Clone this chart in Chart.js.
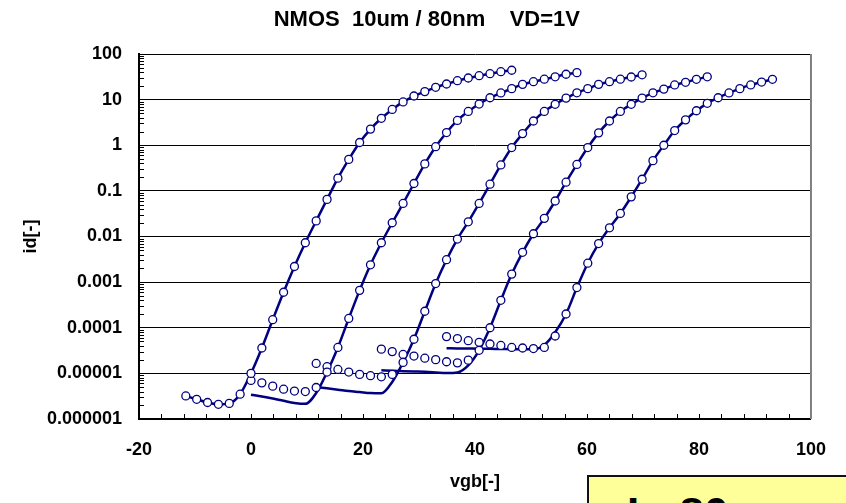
<!DOCTYPE html>
<html>
<head>
<meta charset="utf-8">
<script src="https://cdn.jsdelivr.net/npm/chart.js@4"></script>
<style>
  html, body { margin: 0; padding: 0; background: #fff; overflow: hidden; }
  #wrap { position: relative; width: 846px; height: 503px; }
  #note {
    position: absolute; left: 587px; top: 475px; width: 270px; height: 60px;
    background: #FFFF99; border: 2px solid #111; box-sizing: border-box;
    font: bold 44px "Liberation Sans", Arial, sans-serif; color: #000;
    padding: 12px 0 0 38px; white-space: nowrap;
  }
</style>
</head>
<body>
<div id="wrap">
  <canvas id="idChart" width="846" height="503"></canvas>
  <div id="note">L=80nm</div>
</div>
<script>
// gate voltage grid shared by all curves
const vgb = [-11.64, -9.70, -7.76, -5.82, -3.88, -1.94, 0, 1.94, 3.88, 5.82, 7.76, 9.70,
  11.64, 13.58, 15.52, 17.46, 19.40, 21.34, 23.28, 25.22, 27.16, 29.10, 31.04, 32.98,
  34.92, 36.86, 38.80, 40.74, 42.68, 44.62, 46.56, 48.50, 50.44, 52.38, 54.32, 56.26,
  58.20, 60.14, 62.08, 64.02, 65.96, 67.90, 69.84, 71.78, 73.72, 75.66, 77.60, 79.54,
  81.48, 83.42, 85.36, 87.30, 89.24, 91.18, 93.12];

// first vgb index of each curve
const curveStart = [0, 6, 12, 18, 24];

// measured id (circles)
const meas1 = [3.2e-6, 2.7e-6, 2.3e-6, 2.1e-6, 2.2e-6, 3.5e-6, 1.0e-5, 3.6e-5, 1.5e-4, 6.0e-4,
  2.2e-3, 7.3e-3, 0.022, 0.065, 0.19, 0.49, 1.15, 2.26, 3.9, 6.1, 8.9, 12, 15, 18.6, 22, 26,
  29.8, 33.5, 37, 41, 44];
const meas2 = [7.0e-6, 6.2e-6, 5.25e-6, 4.5e-6, 4.1e-6, 4.0e-6, 4.9e-6, 1.07e-5, 3.7e-5, 1.6e-4,
  6.6e-4, 2.4e-3, 7.3e-3, 0.020, 0.053, 0.145, 0.39, 0.93, 1.9, 3.5, 5.5, 8.0, 11, 14, 17.4,
  21.6, 24.7, 28, 31.6, 36, 39];
const meas3 = [1.65e-5, 1.4e-5, 1.22e-5, 1.07e-5, 9.5e-6, 8.9e-6, 8.4e-6, 9.5e-6, 1.74e-5, 5.6e-5,
  2.3e-4, 9.3e-4, 3.1e-3, 8.8e-3, 0.021, 0.053, 0.14, 0.37, 0.89, 1.8, 3.4, 5.5, 7.9, 10.8,
  14.1, 17.4, 21.6, 24.7, 28, 31.3, 35];
const meas4 = [3.4e-5, 3.0e-5, 2.6e-5, 2.4e-5, 2.15e-5, 2.0e-5, 1.8e-5, 1.7e-5, 1.95e-5, 3.2e-5,
  1.0e-4, 4.0e-4, 1.5e-3, 4.5e-3, 0.0115, 0.025, 0.060, 0.155, 0.38, 0.89, 1.87, 3.4, 5.5,
  7.9, 10.8, 14.1, 17, 21, 24, 27.9, 31.6];
const meas5 = [6.4e-5, 5.8e-5, 5.2e-5, 4.8e-5, 4.4e-5, 4.1e-5, 3.7e-5, 3.6e-5, 3.5e-5, 3.7e-5,
  6.6e-5, 2.0e-4, 7.6e-4, 2.6e-3, 7.0e-3, 0.0155, 0.032, 0.074, 0.18, 0.46, 1.0, 2.1, 3.6,
  5.7, 8.3, 11, 14, 17.4, 21, 24.3, 27.9];

// simulated id (lines)
const sim1 = [3.2e-6, 2.7e-6, 2.3e-6, 2.1e-6, 2.2e-6, 3.5e-6, 1.0e-5, 3.6e-5, 1.5e-4, 6.0e-4,
  2.2e-3, 7.3e-3, 0.022, 0.065, 0.19, 0.49, 1.15, 2.26, 3.9, 6.1, 8.9, 12, 15, 18.6, 22, 26,
  29.8, 33.5, 37, 41, 44];
const sim2 = [3.4e-6, 3.1e-6, 2.8e-6, 2.5e-6, 2.25e-6, 2.15e-6, 3.7e-6, 1.07e-5, 3.7e-5, 1.6e-4,
  6.6e-4, 2.4e-3, 7.3e-3, 0.020, 0.053, 0.145, 0.39, 0.93, 1.9, 3.5, 5.5, 8.0, 11, 14, 17.4,
  21.6, 24.7, 28, 31.6, 36, 39];
const sim3 = [5.0e-6, 4.7e-6, 4.4e-6, 4.1e-6, 3.9e-6, 3.7e-6, 3.65e-6, 6.5e-6, 1.74e-5, 5.6e-5,
  2.3e-4, 9.3e-4, 3.1e-3, 8.8e-3, 0.021, 0.053, 0.14, 0.37, 0.89, 1.8, 3.4, 5.5, 7.9, 10.8,
  14.1, 17.4, 21.6, 24.7, 28, 31.3, 35];
const sim4 = [1.17e-5, 1.14e-5, 1.12e-5, 1.1e-5, 1.08e-5, 1.05e-5, 1.02e-5, 1.05e-5, 1.5e-5, 3.2e-5,
  1.0e-4, 4.0e-4, 1.5e-3, 4.5e-3, 0.0115, 0.025, 0.060, 0.155, 0.38, 0.89, 1.87, 3.4, 5.5,
  7.9, 10.8, 14.1, 17, 21, 24, 27.9, 31.6];
const sim5 = [3.55e-5, 3.52e-5, 3.5e-5, 3.48e-5, 3.45e-5, 3.43e-5, 3.4e-5, 3.4e-5, 3.4e-5, 4.2e-5,
  8.0e-5, 2.0e-4, 7.6e-4, 2.6e-3, 7.0e-3, 0.0155, 0.032, 0.074, 0.18, 0.46, 1.0, 2.1, 3.6,
  5.7, 8.3, 11, 14, 17.4, 21, 24.3, 27.9];

const yTickValues = [1e-6, 1e-5, 1e-4, 1e-3, 1e-2, 1e-1, 1, 10, 100];
const yTickLabels = ['0.000001', '0.00001', '0.0001', '0.001', '0.01', '0.1', '1', '10', '100'];

const navy = '#000080';
const font = '"Liberation Sans", Arial, sans-serif';

function pts(start, vals) {
  return vals.map((v, i) => ({ x: vgb[start + i], y: v }));
}

const measured = [meas1, meas2, meas3, meas4, meas5];
const simulated = [sim1, sim2, sim3, sim4, sim5];

const datasets = [];
measured.forEach((m, i) => {
  datasets.push({
    data: pts(curveStart[i], m),
    showLine: false,
    pointRadius: 4,
    pointBackgroundColor: '#fff',
    pointBorderColor: navy,
    pointBorderWidth: 1.3,
    order: 0
  });
});
simulated.forEach((s, i) => {
  datasets.push({
    data: pts(curveStart[i], s),
    showLine: true,
    borderColor: navy,
    borderWidth: 2.5,
    pointRadius: 0,
    cubicInterpolationMode: 'monotone',
    order: 1
  });
});

// inward tick marks and right frame
const frameTicks = {
  id: 'frameTicks',
  afterDraw(chart) {
    const ctx = chart.ctx;
    const a = chart.chartArea;
    const xs = chart.scales.x;
    const ys = chart.scales.y;
    ctx.save();
    ctx.strokeStyle = '#000';
    ctx.lineWidth = 1;
    ctx.beginPath();
    for (let v = -16; v < 100; v += 4) {
      const px = Math.round(xs.getPixelForValue(v)) + 0.5;
      ctx.moveTo(px, a.bottom);
      ctx.lineTo(px, a.bottom - 5);
    }
    for (let d = 1e-6; d < 100; d *= 10) {
      for (let m = 2; m <= 9; m++) {
        const py = Math.round(ys.getPixelForValue(m * d)) + 0.5;
        ctx.moveTo(a.left, py);
        ctx.lineTo(a.left + 5, py);
      }
    }
    ctx.stroke();
    ctx.strokeStyle = '#808080';
    ctx.lineWidth = 2;
    ctx.beginPath();
    ctx.moveTo(a.right, a.top);
    ctx.lineTo(a.right, a.bottom);
    ctx.stroke();
    ctx.restore();
  }
};

new Chart(document.getElementById('idChart'), {
  type: 'scatter',
  data: { datasets: datasets },
  options: {
    responsive: false,
    animation: false,
    layout: { padding: { left: 0, right: 29, top: 0, bottom: 0 } },
    plugins: {
      legend: { display: false },
      tooltip: { enabled: false },
      title: {
        display: true,
        // leading spaces push the centred title right, as in the original
        text: '      NMOS  10um / 80nm    VD=1V',
        color: '#000',
        font: { family: font, size: 22, weight: 'bold' },
        padding: { top: 7, bottom: 20.6 }
      }
    },
    scales: {
      x: {
        type: 'linear',
        min: -20,
        max: 100,
        afterFit: s => { s.height = 84; },
        grid: { display: false, drawTicks: false },
        border: { display: true, color: '#000', width: 2 },
        ticks: {
          stepSize: 20,
          padding: 20,
          color: '#000',
          font: { family: font, size: 18, weight: 'bold' }
        },
        title: {
          display: true,
          text: 'vgb[-]',
          color: '#000',
          font: { family: font, size: 18, weight: 'bold' },
          padding: { top: 0, bottom: 10 }
        }
      },
      y: {
        type: 'logarithmic',
        min: 1e-6,
        max: 100,
        afterFit: s => { s.width = 139; },
        afterBuildTicks: s => { s.ticks = yTickValues.map(v => ({ value: v })); },
        grid: { color: '#000', lineWidth: 1, drawTicks: false },
        border: { display: true, color: '#000', width: 2 },
        ticks: {
          padding: 17,
          color: '#000',
          font: { family: font, size: 18, weight: 'bold' },
          callback: (v, i) => yTickLabels[i]
        },
        title: {
          display: true,
          text: 'id[-]',
          color: '#000',
          font: { family: font, size: 18, weight: 'bold' },
          padding: { top: 20, bottom: 0 }
        }
      }
    }
  },
  plugins: [frameTicks]
});
</script>
</body>
</html>
